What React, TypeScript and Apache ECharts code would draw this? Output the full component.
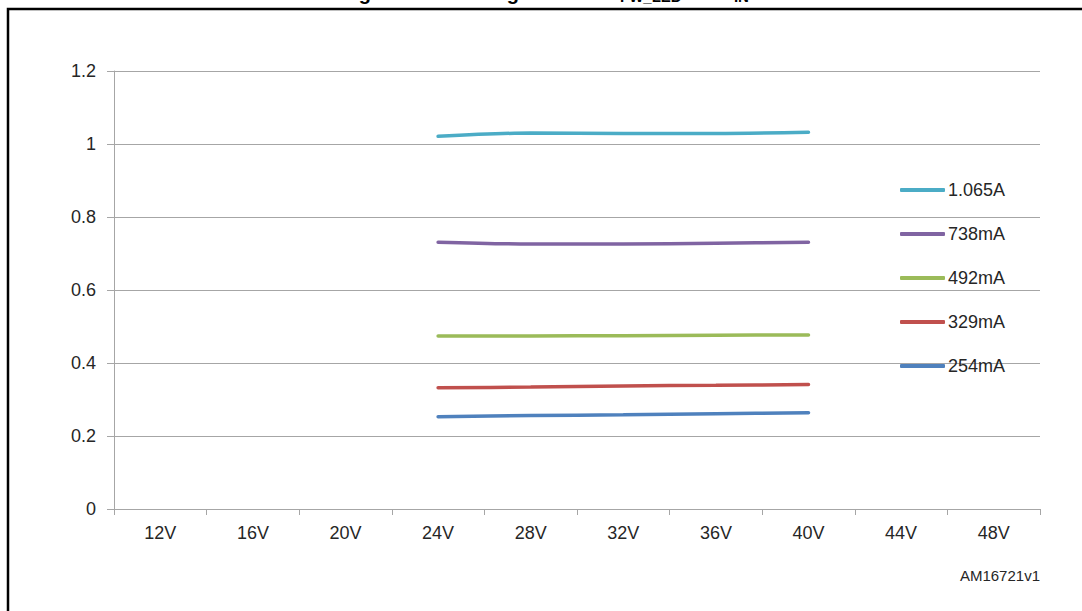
import React, { useEffect, useRef } from "react";
import * as echarts from "echarts";

const categories = ["12V", "16V", "20V", "24V", "28V", "32V", "36V", "40V", "44V", "48V"];
const seriesNames = ["1.065A", "738mA", "492mA", "329mA", "254mA"];
const seriesColors = ["#4BACC6", "#8064A2", "#9BBB59", "#C0504D", "#4F81BD"];
const s1065A = [null, null, null, 1.021, 1.03, 1.029, 1.029, 1.032, null, null];
const s738mA = [null, null, null, 0.731, 0.726, 0.726, 0.728, 0.731, null, null];
const s492mA = [null, null, null, 0.474, 0.474, 0.475, 0.476, 0.477, null, null];
const s329mA = [null, null, null, 0.332, 0.334, 0.337, 0.339, 0.341, null, null];
const s254mA = [null, null, null, 0.253, 0.256, 0.258, 0.261, 0.264, null, null];
const seriesData = [s1065A, s738mA, s492mA, s329mA, s254mA];
const yTicks = { min: 0, max: 1.2, interval: 0.2 };
const titleParts = ["Figure 14. Line regulation of I", "FW_LED", " vs. V", "IN"];
const watermark = "AM16721v1";

const FONT = "'Liberation Sans', Arial, sans-serif";
const TEXT = "#262626";
const AXIS = "#A6A6A6";

export default function App() {
  const ref = useRef<HTMLDivElement>(null);
  useEffect(() => {
    if (!ref.current) return;
    const chart = echarts.init(ref.current, null, { renderer: "svg" });
    chart.setOption({
      animation: false,
      backgroundColor: "#ffffff",
      textStyle: { fontFamily: FONT },
      grid: { left: 114, right: 42, top: 71, bottom: 102, containLabel: false },
      xAxis: {
        type: "category",
        data: categories,
        boundaryGap: true,
        axisLine: { lineStyle: { color: AXIS, width: 1 } },
        axisTick: { show: true, length: 6, lineStyle: { color: AXIS } },
        axisLabel: { color: TEXT, fontSize: 18, margin: 15, fontFamily: FONT },
        splitLine: { show: false },
      },
      yAxis: {
        type: "value",
        min: yTicks.min,
        max: yTicks.max,
        interval: yTicks.interval,
        axisLine: { show: true, lineStyle: { color: AXIS, width: 1 } },
        axisTick: { show: true, length: 7, lineStyle: { color: AXIS } },
        axisLabel: { color: TEXT, fontSize: 18, margin: 18, fontFamily: FONT },
        splitLine: { show: true, lineStyle: { color: AXIS, width: 1 } },
      },
      legend: {
        orient: "vertical",
        left: 895,
        top: 176,
        itemWidth: 45,
        itemHeight: 4,
        itemGap: 26,
        icon: "roundRect",
        textStyle: { color: TEXT, fontSize: 18, fontFamily: FONT, padding: [0, 0, 0, -2] },
        data: seriesNames,
      },
      series: seriesNames.map((name, i) => ({
        name,
        type: "line",
        data: seriesData[i],
        smooth: 0.3,
        showSymbol: false,
        symbol: "none",
        connectNulls: false,
        itemStyle: { color: seriesColors[i] },
        lineStyle: { color: seriesColors[i], width: 3.5, cap: "round" },
      })),
      graphic: [
        {
          type: "rect",
          shape: { x: 8, y: 9, width: 1100, height: 640 },
          style: { fill: "none", stroke: "#000", lineWidth: 2.5 },
          silent: true,
        },
        {
          type: "text",
          x: 545,
          y: 5,
          style: {
            text: `{a|${titleParts[0]}}{b|${titleParts[1]}}{a|${titleParts[2]}}{b|${titleParts[3]}}`,
            align: "center",
            verticalAlign: "bottom",
            fill: "#000",
            rich: {
              a: { fontSize: 20, fontWeight: "bold", fontFamily: FONT, lineHeight: 22, verticalAlign: "top", padding: [0, 0, 4, 0] },
              b: { fontSize: 15, fontWeight: "bold", fontFamily: FONT, lineHeight: 22, verticalAlign: "top", padding: [6, 0, 0, 0] },
            },
          },
          silent: true,
        },
        {
          type: "text",
          x: 1040,
          y: 575,
          style: {
            text: watermark,
            align: "right",
            verticalAlign: "middle",
            fill: TEXT,
            fontSize: 15,
            fontFamily: FONT,
          },
          silent: true,
        },
      ],
    });
    return () => chart.dispose();
  }, []);
  return (
    <div
      ref={ref}
      style={{ position: "fixed", left: 0, top: 0, width: 1082, height: 611 }}
    />
  );
}
